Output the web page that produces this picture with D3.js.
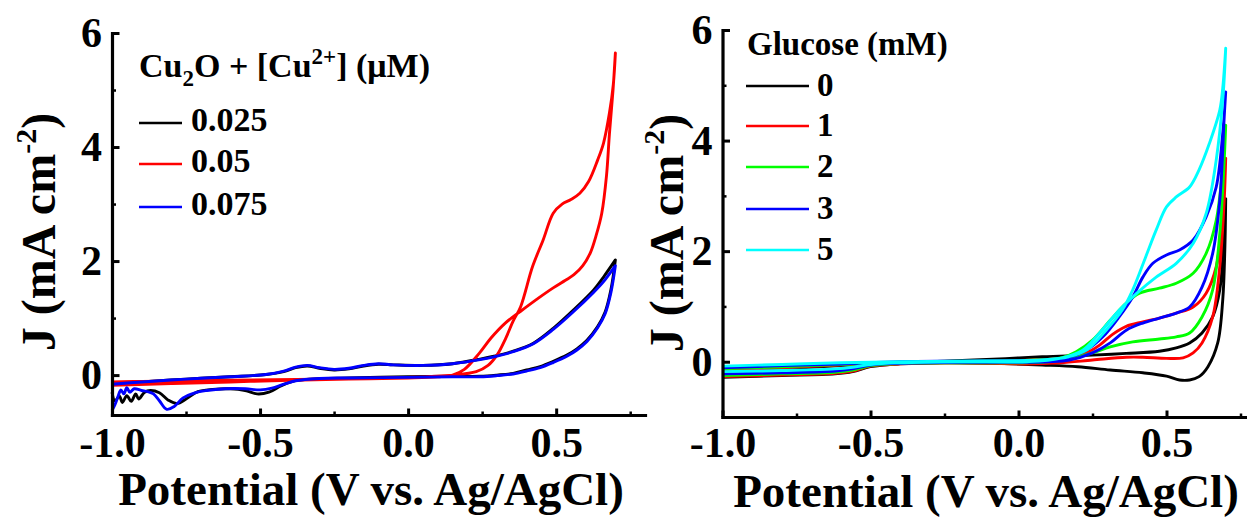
<!DOCTYPE html>
<html>
<head>
<meta charset="utf-8">
<script src="https://cdn.jsdelivr.net/npm/d3@7"></script>
<style>
  html, body { margin: 0; padding: 0; background: #fff; }
  svg { display: block; }
  text { font-family: "Liberation Serif", "Times New Roman", serif; font-weight: bold; fill: #000; }
  .tick text { font-size: 42px; }
</style>
</head>
<body>
<svg id="chart" width="1247" height="517"></svg>
<script>
// ---------- Left panel: Cu2O + Cu2+ (μM), CV loops [potential V, current mA cm^-2] ----------
const cuLabels = ["0.025", "0.05", "0.075"];
const cuColors = ["#000000", "#ff0000", "#0000ff"];

const cu025Lower = [[-1.0,-0.30],[-0.99,-0.45],[-0.975,-0.37],[-0.965,-0.48],[-0.95,-0.36],[-0.935,-0.46],[-0.92,-0.33],[-0.91,-0.42],[-0.89,-0.30],[-0.87,-0.27],[-0.84,-0.31],[-0.81,-0.44],[-0.78,-0.50],[-0.75,-0.42],[-0.71,-0.29],[-0.66,-0.25],[-0.6,-0.24],[-0.55,-0.27],[-0.51,-0.33],[-0.47,-0.30],[-0.43,-0.19],[-0.39,-0.11],[-0.33,-0.07],[-0.2,-0.05],[0.0,-0.03],[0.15,-0.02],[0.243,-0.02],[0.30,0.0],[0.355,0.03],[0.40,0.09],[0.446,0.15],[0.49,0.24],[0.536,0.35],[0.57,0.46],[0.604,0.61],[0.64,0.85],[0.665,1.1],[0.685,1.5],[0.70,2.02]];
const cu025Upper = [[0.70,2.02],[0.66,1.72],[0.626,1.49],[0.558,1.14],[0.49,0.82],[0.423,0.56],[0.355,0.42],[0.29,0.33],[0.243,0.28],[0.15,0.2],[0.05,0.17],[-0.05,0.18],[-0.1,0.19],[-0.15,0.16],[-0.2,0.11],[-0.25,0.09],[-0.3,0.12],[-0.34,0.16],[-0.38,0.13],[-0.42,0.06],[-0.48,0.01],[-0.6,-0.03],[-0.75,-0.07],[-0.9,-0.12],[-1.0,-0.15]];

const cu05Inner = [[-1.0,-0.18],[-0.8,-0.15],[-0.6,-0.12],[-0.4,-0.09],[-0.2,-0.07],[0.0,-0.05],[0.1,-0.03],[0.15,0.0],[0.19,0.1],[0.24,0.38],[0.28,0.65],[0.33,0.92],[0.38,1.12],[0.44,1.35],[0.49,1.53],[0.53,1.66],[0.56,1.76],[0.59,1.92],[0.615,2.14],[0.635,2.45],[0.654,2.84],[0.67,3.5],[0.68,4.24],[0.692,5.0],[0.70,5.65]];
const cu05Outer = [[0.70,5.65],[0.693,5.1],[0.68,4.6],[0.66,4.07],[0.64,3.77],[0.61,3.4],[0.58,3.19],[0.55,3.08],[0.52,3.0],[0.49,2.84],[0.456,2.37],[0.42,1.9],[0.38,1.2],[0.355,0.95],[0.33,0.65],[0.30,0.35],[0.27,0.17],[0.23,0.06],[0.15,0.0],[0.0,-0.04],[-0.3,-0.07],[-0.6,-0.09],[-0.9,-0.11],[-1.0,-0.12]];

const cu075Lower = [[-1.0,-0.62],[-0.99,-0.52],[-0.98,-0.38],[-0.97,-0.26],[-0.96,-0.33],[-0.95,-0.22],[-0.94,-0.30],[-0.925,-0.24],[-0.9,-0.27],[-0.88,-0.29],[-0.86,-0.33],[-0.84,-0.45],[-0.815,-0.60],[-0.79,-0.55],[-0.76,-0.40],[-0.72,-0.31],[-0.68,-0.27],[-0.62,-0.24],[-0.55,-0.24],[-0.5,-0.26],[-0.46,-0.23],[-0.42,-0.16],[-0.38,-0.10],[-0.3,-0.06],[-0.2,-0.05],[0.0,-0.04],[0.15,-0.03],[0.243,-0.03],[0.3,-0.01],[0.355,0.02],[0.4,0.07],[0.446,0.13],[0.49,0.22],[0.536,0.33],[0.57,0.44],[0.604,0.59],[0.64,0.83],[0.665,1.07],[0.685,1.45],[0.70,1.92]];
const cu075Upper = [[0.70,1.92],[0.66,1.64],[0.626,1.45],[0.558,1.11],[0.49,0.80],[0.423,0.55],[0.355,0.41],[0.29,0.32],[0.243,0.27],[0.15,0.2],[0.05,0.17],[-0.05,0.18],[-0.1,0.2],[-0.15,0.17],[-0.2,0.12],[-0.25,0.1],[-0.3,0.13],[-0.34,0.17],[-0.38,0.14],[-0.42,0.07],[-0.48,0.01],[-0.6,-0.03],[-0.75,-0.07],[-0.9,-0.12],[-1.0,-0.16]];

// ---------- Right panel: glucose (mM) ----------
const gluLabels = ["0", "1", "2", "3", "5"];
const gluColors = ["#000000", "#ff0000", "#00ff00", "#0000ff", "#00ffff"];

const glu0Up = [[-1.0,-0.17],[-0.8,-0.13],[-0.6,-0.07],[-0.45,-0.03],[-0.3,0.0],[-0.15,0.03],[-0.03,0.06],[0.08,0.09],[0.14,0.1],[0.25,0.12],[0.364,0.15],[0.476,0.19],[0.533,0.25],[0.578,0.34],[0.62,0.52],[0.656,0.81],[0.68,1.3],[0.695,2.32],[0.70,2.95]];
const glu0Down = [[0.70,2.95],[0.697,2.02],[0.69,1.12],[0.673,0.34],[0.64,-0.09],[0.61,-0.27],[0.578,-0.33],[0.544,-0.33],[0.5,-0.26],[0.42,-0.2],[0.31,-0.15],[0.2,-0.09],[0.08,-0.06],[-0.09,-0.03],[-0.25,-0.02],[-0.4,-0.04],[-0.5,-0.09],[-0.56,-0.18],[-0.62,-0.22],[-0.8,-0.25],[-1.0,-0.28]];

const glu1Up = [[-1.0,-0.15],[-0.8,-0.11],[-0.6,-0.06],[-0.4,-0.02],[-0.2,0.0],[0.0,0.02],[0.12,0.05],[0.18,0.09],[0.23,0.16],[0.274,0.3],[0.319,0.5],[0.364,0.64],[0.42,0.72],[0.476,0.79],[0.533,0.88],[0.59,0.99],[0.634,1.24],[0.668,1.72],[0.685,2.44],[0.695,3.2],[0.70,3.68]];
const glu1Down = [[0.70,3.68],[0.695,2.92],[0.68,1.72],[0.656,0.81],[0.62,0.34],[0.59,0.16],[0.556,0.07],[0.5,0.06],[0.42,0.08],[0.364,0.08],[0.25,0.03],[0.14,-0.02],[0.026,-0.04],[-0.2,-0.02],[-0.4,-0.04],[-0.5,-0.08],[-0.56,-0.17],[-0.62,-0.21],[-0.8,-0.24],[-1.0,-0.27]];

const glu2Up = [[-1.0,-0.13],[-0.8,-0.09],[-0.6,-0.05],[-0.4,-0.01],[-0.2,0.01],[0.0,0.02],[0.1,0.04],[0.15,0.08],[0.195,0.18],[0.25,0.39],[0.31,0.75],[0.364,1.06],[0.409,1.24],[0.476,1.33],[0.533,1.42],[0.59,1.6],[0.634,1.96],[0.668,2.56],[0.69,3.52],[0.70,4.28]];
const glu2Down = [[0.70,4.28],[0.695,3.65],[0.68,2.32],[0.656,1.3],[0.62,0.81],[0.578,0.52],[0.533,0.45],[0.476,0.41],[0.386,0.36],[0.31,0.27],[0.25,0.16],[0.18,0.06],[0.1,0.0],[0.0,-0.02],[-0.2,-0.02],[-0.4,-0.03],[-0.5,-0.07],[-0.56,-0.15],[-0.62,-0.19],[-0.8,-0.22],[-1.0,-0.25]];

const glu3Up = [[-1.0,-0.11],[-0.8,-0.07],[-0.6,-0.04],[-0.4,0.0],[-0.2,0.01],[0.0,0.02],[0.1,0.03],[0.16,0.06],[0.229,0.21],[0.285,0.45],[0.34,0.81],[0.386,1.17],[0.42,1.53],[0.454,1.78],[0.5,1.93],[0.544,2.02],[0.59,2.2],[0.634,2.62],[0.668,3.16],[0.69,4.13],[0.70,4.88]];
const glu3Down = [[0.70,4.88],[0.695,4.43],[0.68,2.92],[0.656,1.96],[0.62,1.35],[0.578,0.99],[0.533,0.88],[0.476,0.79],[0.42,0.70],[0.364,0.57],[0.31,0.34],[0.25,0.16],[0.172,0.03],[0.1,0.0],[0.0,-0.01],[-0.2,-0.01],[-0.4,-0.03],[-0.5,-0.06],[-0.56,-0.13],[-0.62,-0.17],[-0.8,-0.2],[-1.0,-0.22]];

const glu5Up = [[-1.0,-0.08],[-0.8,-0.05],[-0.6,-0.02],[-0.4,0.0],[-0.2,0.01],[0.0,0.02],[0.08,0.03],[0.17,0.09],[0.23,0.21],[0.296,0.57],[0.35,0.93],[0.386,1.3],[0.43,1.9],[0.465,2.38],[0.5,2.8],[0.533,2.98],[0.578,3.16],[0.61,3.47],[0.645,3.95],[0.68,4.55],[0.69,4.95],[0.70,5.67]];
const glu5Down = [[0.70,5.67],[0.69,4.73],[0.668,3.65],[0.634,2.68],[0.59,2.14],[0.533,1.78],[0.465,1.53],[0.4,1.24],[0.34,0.93],[0.274,0.52],[0.217,0.21],[0.14,0.06],[0.03,0.0],[-0.2,0.0],[-0.4,-0.02],[-0.5,-0.05],[-0.56,-0.1],[-0.62,-0.13],[-0.8,-0.16],[-1.0,-0.18]];

// ---------- Axis ticks ----------
const xMajorTicks = [-1.0, -0.5, 0.0, 0.5];
const xMinorTicks = [-0.75, -0.25, 0.25, 0.75];
const yMajorTicks = [0, 2, 4, 6];
const yMinorTicks = [1, 3, 5];
const xTitle = "Potential (V vs. Ag/AgCl)";

const svg = d3.select("#chart");

const panels = [
  {
    x: d3.scaleLinear().domain([-1.0, 0.8]).range([112, 645]),
    y: d3.scaleLinear().domain([-0.7, 6]).range([415, 33]),
    loops: [cu025Lower.concat(cu025Upper), cu05Inner.concat(cu05Outer), cu075Lower.concat(cu075Upper)],
    colors: cuColors,
    xTitleX: 371, xTitleY: 505, yTitleX: 55, yTitleY: 232, xPad: 12
  },
  {
    x: d3.scaleLinear().domain([-1.0, 0.8]).range([722.5, 1255.3]),
    y: d3.scaleLinear().domain([-1, 6]).range([417, 30]),
    loops: [glu0Up.concat(glu0Down), glu1Up.concat(glu1Down), glu2Up.concat(glu2Down), glu3Up.concat(glu3Down), glu5Up.concat(glu5Down)],
    colors: gluColors,
    xTitleX: 986, xTitleY: 507, yTitleX: 683, yTitleY: 233, xPad: 10.5
  }
];

panels.forEach(p => {
  const g = svg.append("g");

  // CV loops
  const line = d3.line()
    .x(d => p.x(d[0]))
    .y(d => p.y(d[1]))
    .curve(d3.curveCatmullRom.alpha(0.5));
  g.append("g").selectAll("path")
    .data(p.loops)
    .join("path")
    .attr("d", line)
    .attr("fill", "none")
    .attr("stroke", (d, i) => p.colors[i])
    .attr("stroke-width", 2.9)
    .attr("stroke-linejoin", "round");

  const y0 = p.y.range()[0];
  const x0 = p.x.range()[0];

  // minor ticks
  g.append("g").attr("transform", `translate(0,${y0})`)
    .call(d3.axisBottom(p.x).tickValues(xMinorTicks).tickSize(-3.5).tickSizeOuter(0).tickFormat(() => ""))
    .call(a => a.select(".domain").remove())
    .selectAll("line").attr("stroke-width", 2.5);
  g.append("g").attr("transform", `translate(${x0},0)`)
    .call(d3.axisLeft(p.y).tickValues(yMinorTicks).tickSize(-4).tickSizeOuter(0).tickFormat(() => ""))
    .call(a => a.select(".domain").remove())
    .selectAll("line").attr("stroke-width", 2.5);

  // major axes
  const xa = g.append("g").attr("transform", `translate(0,${y0})`)
    .call(d3.axisBottom(p.x).tickValues(xMajorTicks).tickSize(-6.5).tickSizeOuter(0)
      .tickPadding(p.xPad).tickFormat(d => d.toFixed(1)));
  const ya = g.append("g").attr("transform", `translate(${x0},0)`)
    .call(d3.axisLeft(p.y).tickValues(yMajorTicks).tickSize(-7.5).tickSizeOuter(0)
      .tickPadding(10).tickFormat(d => String(d)));
  [xa, ya].forEach(a => {
    a.attr("font-family", null).attr("font-size", null);
    a.select(".domain").attr("stroke-width", 3.2).attr("stroke-linecap", "square");
    a.selectAll(".tick line").attr("stroke-width", 3);
  });

  // axis titles
  g.append("text")
    .attr("x", p.xTitleX).attr("y", p.xTitleY)
    .attr("text-anchor", "middle")
    .style("font-size", "47px")
    .text(xTitle);

  const yt = g.append("text")
    .attr("transform", `translate(${p.yTitleX},${p.yTitleY}) rotate(-90)`)
    .attr("text-anchor", "middle")
    .style("font-size", "48px");
  yt.append("tspan").text("J (mA cm");
  yt.append("tspan").attr("dy", -19).style("font-size", "30px").text("-2");
  yt.append("tspan").attr("dy", 19).text(")");
});

// ---------- Legends ----------
const legL = svg.append("g");
const tL = legL.append("text").attr("x", 139).attr("y", 77).style("font-size", "34px");
tL.append("tspan").text("Cu");
tL.append("tspan").attr("dy", 9).style("font-size", "23px").text("2");
tL.append("tspan").attr("dy", -9).text("O + [Cu");
tL.append("tspan").attr("dy", -13).style("font-size", "23px").text("2+");
tL.append("tspan").attr("dy", 13).text("] (\u03bcM)");

const legLRows = [123, 164, 207];
cuLabels.forEach((lab, i) => {
  legL.append("line")
    .attr("x1", 139).attr("x2", 182)
    .attr("y1", legLRows[i]).attr("y2", legLRows[i])
    .attr("stroke", cuColors[i]).attr("stroke-width", 2.7);
  legL.append("text")
    .attr("x", 191).attr("y", legLRows[i] + 8)
    .style("font-size", "34px")
    .text(lab);
});

const legR = svg.append("g");
legR.append("text").attr("x", 747).attr("y", 55).style("font-size", "33px").text("Glucose (mM)");
const legRRows = [86, 126, 167, 209, 250];
gluLabels.forEach((lab, i) => {
  legR.append("line")
    .attr("x1", 746).attr("x2", 809)
    .attr("y1", legRRows[i]).attr("y2", legRRows[i])
    .attr("stroke", gluColors[i]).attr("stroke-width", 2.7);
  legR.append("text")
    .attr("x", 817).attr("y", legRRows[i] + 10)
    .style("font-size", "33px")
    .text(lab);
});
</script>
</body>
</html>
